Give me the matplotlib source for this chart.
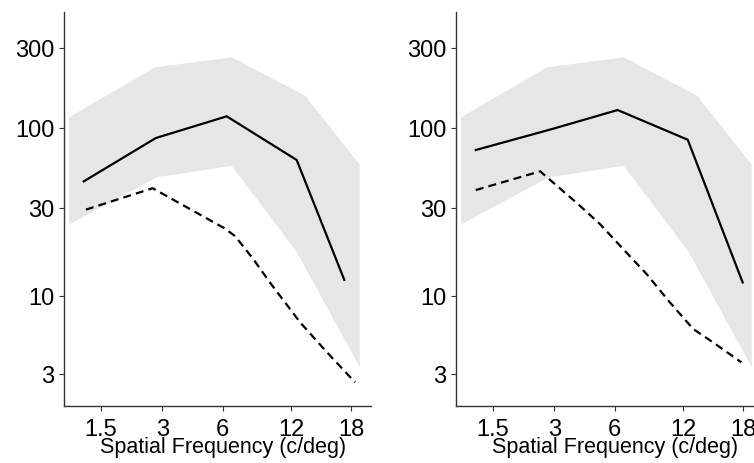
import numpy as np
import matplotlib
matplotlib.use("Agg")
import matplotlib.pyplot as plt

# ---------------- data ----------------
XTICKS = [1.5, 3, 6, 12, 18]
XTICK_LABELS = ["1.5", "3", "6", "12", "18"]
YTICKS = [3, 10, 30, 100, 300]
YTICK_LABELS = ["3", "10", "30", "100", "300"]
XLABEL = "Spatial Frequency (c/deg)"

band_upper_f = [1.05, 2.76, 6.57, 13.2, 19.1]
band_upper_v = [115.8, 230, 264, 155.8, 57.6]
band_lower_f = [1.05, 2.82, 6.57, 12.47, 19.1]
band_lower_v = [24.4, 47.6, 56.6, 17.3, 3.32]

left_solid_f = [1.24, 2.79, 6.25, 12.47, 17.2]
left_solid_v = [44.8, 86.0, 117.4, 61.8, 12.2]
left_dash_f = [1.27, 2.69, 6.1, 6.8, 8.19, 9.69, 12.76, 15.3, 18.5]
left_dash_v = [29.4, 40.4, 23.3, 21.1, 15.8, 11.8, 6.64, 4.19, 2.64]

right_solid_f = [1.24, 2.92, 6.18, 12.39, 17.96]
right_solid_v = [71.8, 98.4, 128, 83.8, 11.8]
right_dash_f = [1.24, 2.56, 4.03, 5.07, 6.55, 8.3, 10.5, 12.86, 14.7, 17.8]
right_dash_v = [39.3, 52.1, 31.0, 24.5, 17.9, 13.1, 9.03, 5.99, 4.88, 3.59]

# ---------------- layout (axis scale geometry, pixels) ----------------
XTICK_POS = [36.7, 98.3, 158.7, 227.0, 287.0]
X_SPAN = 307.0
YTICK_POS = [31.7, 110.0, 197.7, 277.7, 357.7]
Y_SPAN = 393.7


def make_scale(vals, pos, base):
    L = np.log(np.asarray(vals, float)) / np.log(base)
    P = np.asarray(pos, float)
    s0 = (P[1] - P[0]) / (L[1] - L[0])
    s1 = (P[-1] - P[-2]) / (L[-1] - L[-2])
    Lx = np.concatenate([[L[0] - 60], L, [L[-1] + 60]])
    Px = np.concatenate([[P[0] - 60 * s0], P, [P[-1] + 60 * s1]])

    def fwd(v):
        v = np.clip(np.asarray(v, float), 1e-12, None)
        return np.interp(np.log(v) / np.log(base), Lx, Px)

    def inv(p):
        return base ** np.interp(np.asarray(p, float), Px, Lx)

    return fwd, inv


xf, xi = make_scale(XTICKS, XTICK_POS, 2.0)
yf, yi = make_scale(YTICKS, YTICK_POS, 10.0)

W, H = 754, 464
fig = plt.figure(figsize=(W / 100, H / 100), dpi=100)

FONT = "Liberation Sans"
BAND = "#e6e6e6"
AX_COLOR = "#333333"

panels = [
    (64, left_solid_f, left_solid_v, left_dash_f, left_dash_v),
    (456, right_solid_f, right_solid_v, right_dash_f, right_dash_v),
]

for x0, sf, sv, df, dv in panels:
    ax = fig.add_axes([x0 / W, (H - 406.7) / H, X_SPAN / W, Y_SPAN / H])
    ax.set_xscale("function", functions=(xf, xi))
    ax.set_yscale("function", functions=(yf, yi))
    ax.set_xlim(xi(0), xi(X_SPAN))
    ax.set_ylim(yi(0), yi(Y_SPAN))

    ax.fill(np.r_[band_upper_f, band_lower_f[::-1]],
            np.r_[band_upper_v, band_lower_v[::-1]],
            color=BAND, lw=0, zorder=1)
    ax.plot(sf, sv, color="black", lw=1.6, zorder=3, solid_joinstyle="miter")
    ax.plot(df, dv, color="black", lw=1.6, linestyle=(0, (3.6, 2.3)), zorder=3)

    ax.set_xticks(XTICKS)
    ax.set_xticklabels(XTICK_LABELS)
    ax.set_yticks(YTICKS)
    ax.set_yticklabels(YTICK_LABELS)
    ax.minorticks_off()

    for s in ["top", "right"]:
        ax.spines[s].set_visible(False)
    for s in ["left", "bottom"]:
        ax.spines[s].set_color(AX_COLOR)
        ax.spines[s].set_linewidth(1.0)

    ax.tick_params(axis="both", direction="out", length=3.5, width=0.8,
                   color=AX_COLOR, labelcolor="black")
    ax.tick_params(axis="y", pad=3.5)
    ax.tick_params(axis="x", pad=5)
    for lab in ax.get_xticklabels() + ax.get_yticklabels():
        lab.set_fontfamily(FONT)
        lab.set_fontsize(17)

    ax.set_xlabel(XLABEL, fontfamily=FONT, fontsize=15.5, labelpad=0)
    ax.xaxis.set_label_coords(0.5 + 6 / X_SPAN, -(453.0 - 406.7) / Y_SPAN)
    ax.xaxis.label.set_va("baseline")
    ax.set_facecolor("white")

fig.savefig("out.png", dpi=100)
